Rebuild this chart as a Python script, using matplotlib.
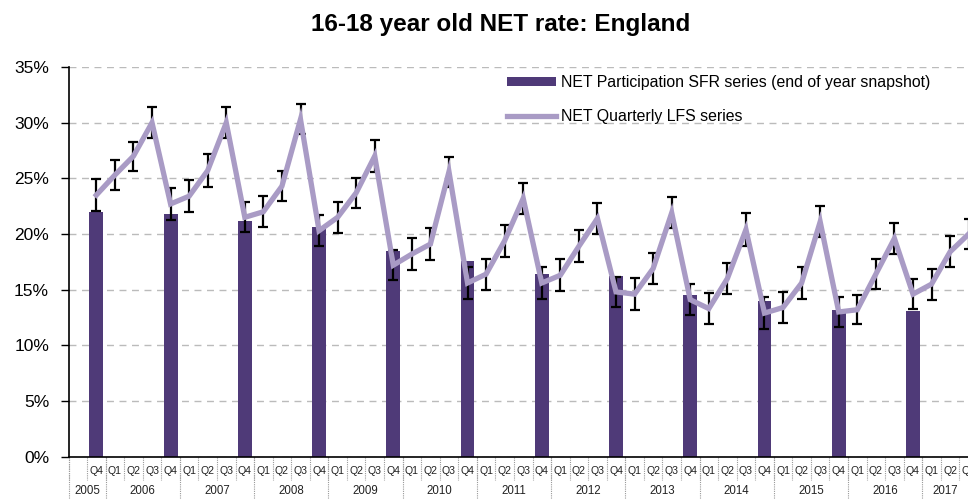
import matplotlib
matplotlib.use("Agg")
import matplotlib.pyplot as plt
from matplotlib.lines import Line2D
from matplotlib.patches import Patch
from matplotlib.transforms import blended_transform_factory
import numpy as np

plt.rcParams['font.family'] = ['Liberation Sans', 'DejaVu Sans']

# ---- data ----
quarter_labels = [''] + ['Q4'] + ['Q1', 'Q2', 'Q3', 'Q4'] * 11 + ['Q1', 'Q2', 'Q3']
year_labels = ['2005', '2006', '2007', '2008', '2009', '2010', '2011',
               '2012', '2013', '2014', '2015', '2016', '2017']
year_sizes = [2] + [4] * 11 + [3]

# NET Quarterly LFS series (Q4 2005 .. Q3 2017)
lfs_values = [23.5,
              25.3, 27.0, 30.0, 22.7,
              23.4, 25.7, 30.0, 21.5,
              22.0, 24.3, 30.3, 20.3,
              21.5, 23.7, 27.0, 17.2,
              18.2, 19.1, 25.6, 15.6,
              16.4, 19.4, 23.2, 15.6,
              16.3, 18.9, 21.4, 14.8,
              14.6, 16.9, 21.9, 14.1,
              13.3, 16.0, 20.4, 12.9,
              13.4, 15.6, 21.1, 13.0,
              13.2, 16.4, 19.6, 14.6,
              15.5, 18.4, 20.0]
lfs_errors = [1.4,
              1.35, 1.3, 1.4, 1.4,
              1.45, 1.45, 1.4, 1.35,
              1.4, 1.35, 1.35, 1.4,
              1.4, 1.35, 1.4, 1.35,
              1.4, 1.4, 1.35, 1.4,
              1.4, 1.45, 1.4, 1.4,
              1.45, 1.45, 1.4, 1.35,
              1.45, 1.4, 1.4, 1.4,
              1.4, 1.4, 1.45, 1.45,
              1.4, 1.4, 1.4, 1.35,
              1.3, 1.35, 1.4, 1.35,
              1.4, 1.4, 1.35]

# NET Participation SFR series (end of year snapshot), Q4 2005 .. Q4 2016
sfr_values = [22.0, 21.8, 21.2, 20.6, 18.5, 17.6, 16.4, 16.2, 14.5, 14.0, 13.2, 13.1]

y_ticks = [0, 5, 10, 15, 20, 25, 30, 35]

# ---- styling ----
bar_color = '#4F3A78'
line_color = '#A99BC5'
grid_color = '#BBBBBB'
sep_color = '#9A9A9A'

W, H = 968, 499
fig = plt.figure(figsize=(W / 100, H / 100), dpi=100)
ax_left, ax_right = 68.5, 968
ax_bottom, ax_top = 456.7, 67
ax = fig.add_axes([ax_left / W, (H - ax_bottom) / H,
                   (ax_right - ax_left) / W, (ax_bottom - ax_top) / H])

n = len(quarter_labels)
x_all = np.arange(n)
x_lfs = x_all[1:1 + len(lfs_values)]
x_bars = [i for i, q in enumerate(quarter_labels) if q == 'Q4'][:len(sfr_values)]

cat_px = 18.56
ax.set_xlim(-0.5, -0.5 + (ax_right - ax_left) / cat_px)
ax.set_ylim(0, 35)

ax.bar(x_bars, sfr_values, width=0.75, color=bar_color, zorder=2)
ax.errorbar(x_lfs, lfs_values, yerr=lfs_errors, fmt='none', ecolor='black',
            elinewidth=1.6, capsize=3.6, capthick=1.6, zorder=3)
ax.plot(x_lfs, lfs_values, color=line_color, lw=3.8, zorder=4,
        solid_joinstyle='miter')

# y axis
ax.set_yticks(y_ticks)
ax.set_yticklabels([f'{t}%' for t in y_ticks], fontsize=12.5)
ax.tick_params(axis='y', length=6, width=1, pad=8, direction='out', color='black')
ax.yaxis.grid(True, color=grid_color, linestyle=(0, (5, 4)), linewidth=1)
ax.set_axisbelow(True)
for s in ['top', 'right']:
    ax.spines[s].set_visible(False)
ax.spines['left'].set_color('black')
ax.spines['bottom'].set_color('black')
ax.spines['left'].set_linewidth(1.2)
ax.spines['bottom'].set_linewidth(1.2)

# multi-level category axis
ax.set_xticks([])
trans = blended_transform_factory(ax.transData, ax.transAxes)
ax_h = ax_bottom - ax_top
row1_bottom = -(480 - ax_bottom) / ax_h
row2_bottom = -(H - ax_bottom + 2) / ax_h
q_text_y = -(471.5 - ax_bottom) / ax_h
y_text_y = -(491.5 - ax_bottom) / ax_h

for i, q in enumerate(quarter_labels):
    ax.plot([i - 0.5, i - 0.5], [0, row1_bottom], transform=trans, color=sep_color,
            lw=0.8, linestyle=(0, (1, 1)), clip_on=False)
    if q:
        ax.text(i, q_text_y, q, transform=trans, ha='center', va='center',
                fontsize=7.6, color='#222222', clip_on=False)

start = 0
for lab, size in zip(year_labels, year_sizes):
    ax.plot([start - 0.5, start - 0.5], [0, row2_bottom], transform=trans,
            color=sep_color, lw=0.8, linestyle=(0, (1, 1)), clip_on=False)
    end = start + size
    right = min(end - 0.5, ax.get_xlim()[1])
    cx = (start - 0.5 + right) / 2
    ax.text(cx, y_text_y, lab, transform=trans, ha='center', va='center',
            fontsize=8.3, color='#222222', clip_on=False)
    start = end

# legend
handles = [Patch(facecolor=bar_color, edgecolor='none'),
           Line2D([0], [0], color=line_color, lw=3.8)]
labels = ['NET Participation SFR series (end of year snapshot)', 'NET Quarterly LFS series']
fs = 11.4
fs_px = fs * 100 / 72
ax.legend(handles, labels, loc='upper left', frameon=False,
          bbox_to_anchor=(507 / W, (H - 75) / H), bbox_transform=fig.transFigure,
          borderpad=0, borderaxespad=0, fontsize=fs,
          handlelength=49 / fs_px, handleheight=0.5, handletextpad=0.3,
          labelspacing=1.2)

fig.text(501 / W, 1 - 24 / H, '16-18 year old NET rate: England', ha='center',
         va='center', fontsize=17.5, fontweight='bold')

fig.savefig('out.png', dpi=100)
